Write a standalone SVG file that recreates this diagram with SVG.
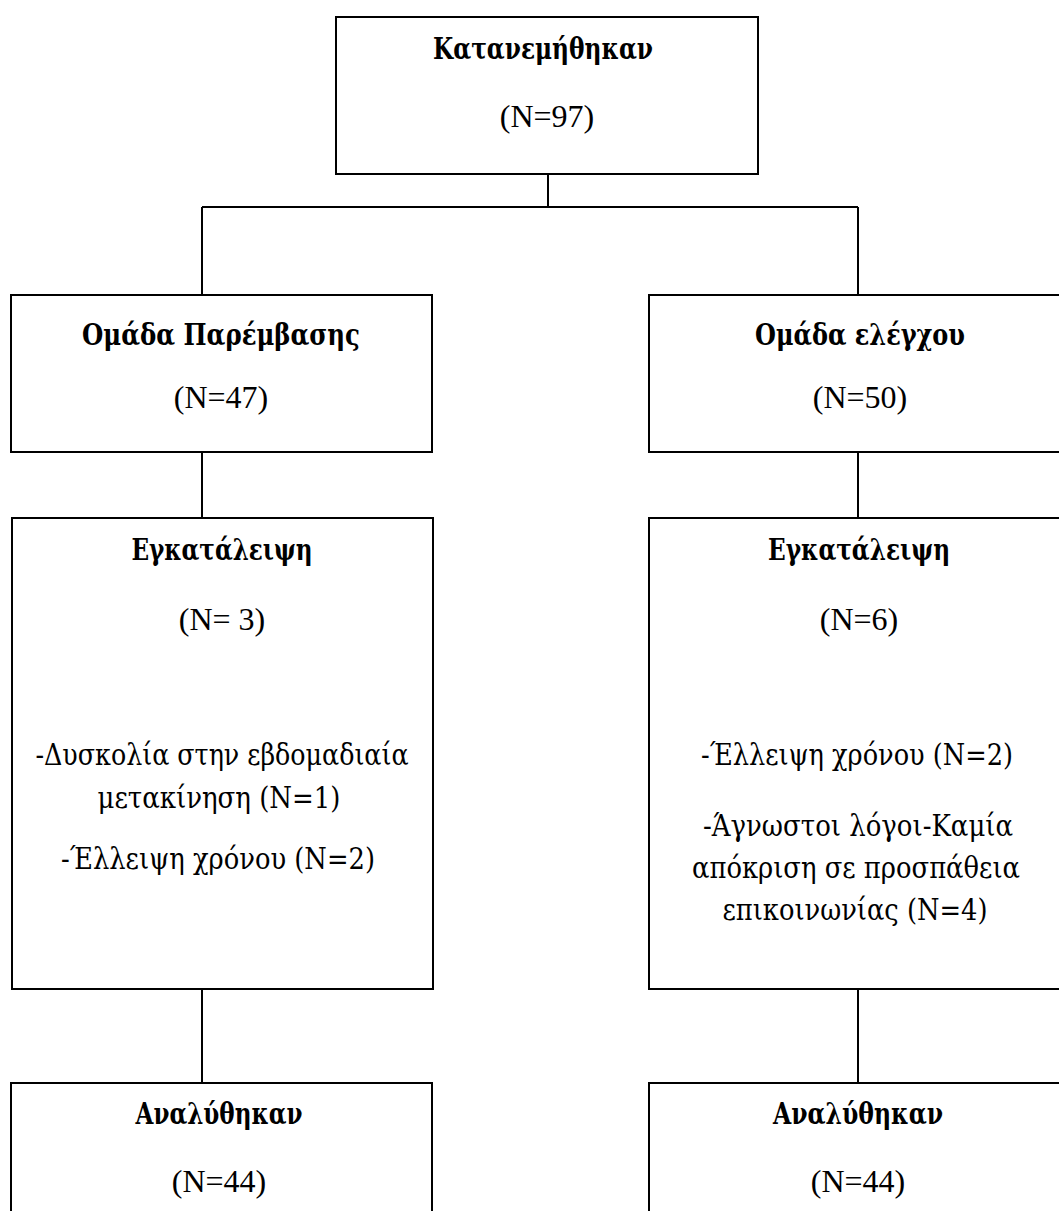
<svg xmlns="http://www.w3.org/2000/svg" width="1059" height="1211" viewBox="0 0 1059 1211">
<style>
.box{fill:#fff;stroke:#000;stroke-width:2}
.ln{stroke:#000;stroke-width:2;fill:none}
text{font-family:"Liberation Serif","Times New Roman",serif;font-size:32px;fill:#000;text-anchor:middle}
.g{font-family:"DejaVu Serif","Liberation Serif",serif;font-size:29px}
.b{font-weight:bold}
</style>
<rect width="1059" height="1211" fill="#fff"/>
<g id="connectors">
<line class="ln" x1="548" y1="174" x2="548" y2="207"/>
<line class="ln" x1="202" y1="207" x2="858" y2="207"/>
<line class="ln" x1="202" y1="207" x2="202" y2="295"/>
<line class="ln" x1="858" y1="207" x2="858" y2="295"/>
<line class="ln" x1="202" y1="452" x2="202" y2="518"/>
<line class="ln" x1="858" y1="452" x2="858" y2="518"/>
<line class="ln" x1="202" y1="989" x2="202" y2="1083"/>
<line class="ln" x1="858" y1="989" x2="858" y2="1083"/>
</g>
<g id="n_top">
<rect class="box" x="336" y="17" width="422" height="157"/>
<text class="g b" x="543" y="59" textLength="220" lengthAdjust="spacingAndGlyphs">Κατανεμήθηκαν</text>
<text x="547" y="127">(N=97)</text>
</g>
<g id="n_int">
<rect class="box" x="11" y="295" width="421" height="157"/>
<text class="g b" x="221" y="345" textLength="278" lengthAdjust="spacingAndGlyphs">Ομάδα Παρέμβασης</text>
<text x="221" y="408">(N=47)</text>
</g>
<g id="n_ctrl">
<rect class="box" x="649" y="295" width="422" height="157"/>
<text class="g b" x="860" y="345" textLength="210" lengthAdjust="spacingAndGlyphs">Ομάδα ελέγχου</text>
<text x="860" y="408">(N=50)</text>
</g>
<g id="n_drop_int">
<rect class="box" x="12" y="518" width="421" height="471"/>
<text class="g b" x="222" y="560" textLength="181" lengthAdjust="spacingAndGlyphs">Εγκατάλειψη</text>
<text x="222" y="630">(N= 3)</text>
<text class="g" x="222" y="765" textLength="373" lengthAdjust="spacingAndGlyphs">-Δυσκολία στην εβδομαδιαία</text>
<text class="g" x="219" y="808" textLength="243" lengthAdjust="spacingAndGlyphs">μετακίνηση (N=1)</text>
<text class="g" x="218" y="869" textLength="314" lengthAdjust="spacingAndGlyphs">-Έλλειψη χρόνου (N=2)</text>
</g>
<g id="n_drop_ctrl">
<rect class="box" x="649" y="518" width="422" height="471"/>
<text class="g b" x="859" y="560" textLength="182" lengthAdjust="spacingAndGlyphs">Εγκατάλειψη</text>
<text x="859" y="630">(N=6)</text>
<text class="g" x="857" y="765" textLength="312" lengthAdjust="spacingAndGlyphs">-Έλλειψη χρόνου (N=2)</text>
<text class="g" x="858" y="836" textLength="310" lengthAdjust="spacingAndGlyphs">-Άγνωστοι λόγοι-Καμία</text>
<text class="g" x="856" y="878" textLength="328" lengthAdjust="spacingAndGlyphs">απόκριση σε προσπάθεια</text>
<text class="g" x="855" y="920" textLength="265" lengthAdjust="spacingAndGlyphs">επικοινωνίας (N=4)</text>
</g>
<g id="n_an_int">
<rect class="box" x="11" y="1083" width="421" height="200"/>
<text class="g b" x="219" y="1124" textLength="167" lengthAdjust="spacingAndGlyphs">Αναλύθηκαν</text>
<text x="219" y="1192">(N=44)</text>
</g>
<g id="n_an_ctrl">
<rect class="box" x="649" y="1083" width="422" height="200"/>
<text class="g b" x="858" y="1124" textLength="170" lengthAdjust="spacingAndGlyphs">Αναλύθηκαν</text>
<text x="858" y="1192">(N=44)</text>
</g>
</svg>
